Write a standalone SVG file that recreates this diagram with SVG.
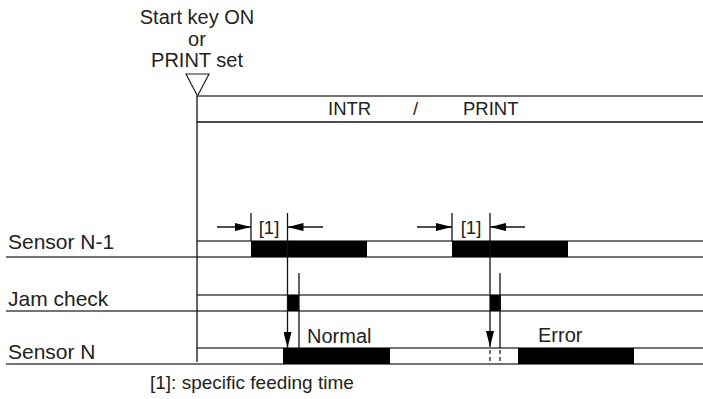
<svg xmlns="http://www.w3.org/2000/svg" width="703" height="399" viewBox="0 0 703 399">
<defs>
<style>
text{font-family:"Liberation Sans",Arial,sans-serif;font-size:20px;fill:#222}
.lb{font-size:21px}
.sm{font-size:18.5px}
.ft{font-size:19px}
.ln{stroke:#444;stroke-width:1.4;fill:none}
.dk{stroke:#111;stroke-width:1.3;fill:none}
.bar{fill:#000}
.ds{stroke:#111;stroke-width:1.2;stroke-dasharray:4,3;fill:none}
</style>
<marker id="ah" viewBox="0 0 16 8" refX="16" refY="4" markerWidth="16" markerHeight="8" markerUnits="userSpaceOnUse" orient="auto">
<path d="M0,0 L16,4 L0,8 Z" fill="#000"/>
</marker>
</defs>
<rect width="703" height="399" fill="#fff"/>
<g id="start">
<text x="197" y="24" text-anchor="middle">Start key ON</text>
<text x="197" y="45.5" text-anchor="middle">or</text>
<text x="197" y="67" text-anchor="middle">PRINT set</text>
<polygon points="186,74 209,74 197.5,96" fill="#fff" stroke="#222" stroke-width="1.2"/>
</g>
<g id="band">
<line class="ln" x1="197" y1="96" x2="703" y2="96"/>
<line class="dk" x1="197" y1="122" x2="703" y2="122"/>
<text class="sm" x="328" y="115">INTR</text>
<text class="sm" x="413" y="115">/</text>
<text class="sm" x="463" y="115">PRINT</text>
</g>
<g id="sensorN1">
<text class="lb" x="8" y="249">Sensor N-1</text>
<line class="ln" x1="197" y1="241" x2="703" y2="241"/>
<line class="ln" x1="6" y1="257" x2="703" y2="257"/>
<rect class="bar" x="251" y="241" width="116" height="16"/>
<rect class="bar" x="452" y="241" width="116" height="16"/>
</g>
<g id="jamcheck">
<text class="lb" x="8" y="306">Jam check</text>
<line class="ln" x1="197" y1="295" x2="703" y2="295"/>
<line class="ln" x1="6" y1="311" x2="703" y2="311"/>
<rect class="bar" x="287" y="295" width="12" height="16"/>
<rect class="bar" x="490" y="295" width="11" height="16"/>
</g>
<g id="sensorN">
<text class="lb" x="8" y="359">Sensor N</text>
<line class="ln" x1="197" y1="348" x2="703" y2="348"/>
<line class="ln" x1="6" y1="364" x2="703" y2="364"/>
<rect class="bar" x="283" y="348" width="107" height="16"/>
<rect class="bar" x="518" y="348" width="116" height="16"/>
<text x="307" y="343">Normal</text>
<text x="538" y="342">Error</text>
</g>
<g id="connectors">
<line class="dk" x1="197" y1="96" x2="197" y2="362"/>
<line class="dk" x1="251" y1="213" x2="251" y2="241"/>
<line class="dk" x1="287.5" y1="213" x2="287.5" y2="348" marker-end="url(#ah)"/>
<line class="dk" x1="217" y1="227" x2="251" y2="227" marker-end="url(#ah)"/>
<line class="dk" x1="323" y1="227" x2="287.5" y2="227" marker-end="url(#ah)"/>
<text class="sm" x="269" y="234" text-anchor="middle">[1]</text>
<line class="dk" x1="299" y1="273" x2="299" y2="348"/>
<line class="dk" x1="452" y1="213" x2="452" y2="241"/>
<line class="dk" x1="490" y1="213" x2="490" y2="347" marker-end="url(#ah)"/>
<line class="dk" x1="417" y1="227" x2="452" y2="227" marker-end="url(#ah)"/>
<line class="dk" x1="525" y1="227" x2="490" y2="227" marker-end="url(#ah)"/>
<text class="sm" x="471" y="234" text-anchor="middle">[1]</text>
<line class="dk" x1="500" y1="273" x2="500" y2="348"/>
<line class="ds" x1="490" y1="350" x2="490" y2="364"/>
<line class="ds" x1="500" y1="350" x2="500" y2="364"/>
</g>
<text class="ft" x="150" y="389">[1]: specific feeding time</text>
</svg>
